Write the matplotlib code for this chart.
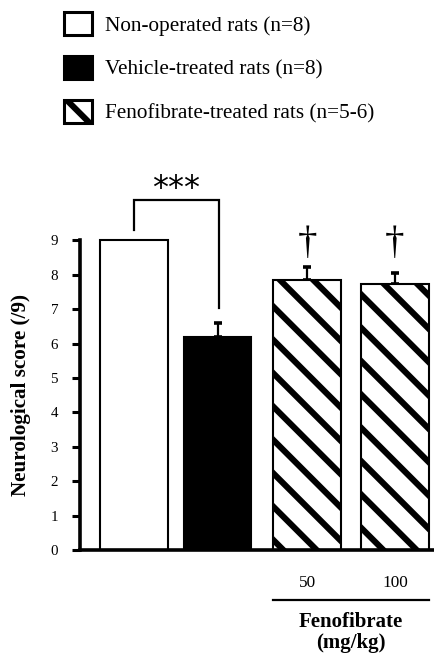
import matplotlib
matplotlib.use("Agg")
import matplotlib.pyplot as plt
from matplotlib.patches import Patch
import matplotlib.transforms as mtransforms

# ---- data ----
groups = ["Non-operated rats (n=8)", "Vehicle-treated rats (n=8)",
          "Fenofibrate-treated rats (n=5-6)", "Fenofibrate-treated rats (n=5-6)"]
scores = [9.0, 6.18, 7.85, 7.72]
sem = [0.0, 0.41, 0.37, 0.34]
dose_labels = ["", "", "50", "100"]
yticks = list(range(0, 10))

# ---- layout / style ----
positions = [0, 0.96, 1.99, 3.0]
width = 0.78
faces = ["white", "black", "white", "white"]
hatches = [None, None, "\\\\", "\\\\"]

DPI = 200
plt.rcParams["font.family"] = ["Liberation Serif", "DejaVu Serif"]
plt.rcParams["hatch.linewidth"] = 2.2
plt.rcParams["hatch.color"] = "black"

fig = plt.figure(figsize=(435 / DPI, 658 / DPI), dpi=DPI)
W, H = 435.0, 658.0
ax_left, ax_right, ax_bottom, ax_top = 80, 435, 550, 160
ax = fig.add_axes([ax_left / W, 1 - ax_bottom / H, (ax_right - ax_left) / W, (ax_bottom - ax_top) / H])
ppu = 34.4
ax.set_ylim(0, (ax_bottom - ax_top) / ppu)
unit = 87.0
ax.set_xlim((ax_left - 134) / unit, (ax_right - 134) / unit)

for i in range(len(scores)):
    ax.bar(positions[i], scores[i], width=width, color=faces[i], edgecolor="black",
           linewidth=0.75, hatch=hatches[i], zorder=2)

err_x = [positions[i] for i in range(len(sem)) if sem[i] > 0]
err_y = [scores[i] for i in range(len(sem)) if sem[i] > 0]
err_v = [sem[i] for i in range(len(sem)) if sem[i] > 0]
ax.errorbar(err_x, err_y, yerr=[[0] * len(err_v), err_v], fmt="none", ecolor="black",
            elinewidth=0.8, capsize=1.3, capthick=1.3, zorder=1)

# spines
for s in ["top", "right"]:
    ax.spines[s].set_visible(False)
ax.spines["left"].set_bounds(0, 9)
ax.spines["left"].set_linewidth(1.3)
ax.spines["bottom"].set_linewidth(1.3)
ax.set_yticks(yticks)
ax.set_yticklabels([str(t) for t in yticks])
ax.tick_params(axis="y", direction="out", length=2.9, width=1.1, labelsize=5.4, pad=5)
ax.set_xticks(positions)
ax.set_xticklabels(dose_labels)
ax.tick_params(axis="x", length=0, labelsize=6.2, pad=9)

ax.set_ylabel("Neurological score (/9)", fontsize=7.6, fontweight="bold")
ax.yaxis.set_label_coords((31 - ax_left) / (ax_right - ax_left), 4.5 / ((ax_bottom - ax_top) / ppu))

# significance bracket
yb_left, yb_top, yb_right = 9.30, 10.17, 7.03
xr = (219 - 134) / unit
ax.plot([positions[0], positions[0], xr, xr], [yb_left, yb_top, yb_top, yb_right],
        color="black", lw=0.8, clip_on=False, solid_joinstyle="miter")
ax.text((positions[0] + xr) / 2, 10.5, "***", ha="center", va="center",
        fontsize=11.5, family="DejaVu Sans", clip_on=False)

for p in positions[2:]:
    ax.text(p, 8.9, "\u2020", ha="center", va="center", fontsize=14, clip_on=False)

# Fenofibrate underline
trans = mtransforms.blended_transform_factory(ax.transData, ax.transAxes)
yline = (ax_bottom - 600) / (ax_bottom - ax_top)
x0 = positions[2] - width / 2
x1 = positions[3] + width / 2
ax.plot([x0, x1], [yline, yline], color="black", lw=0.8, transform=trans, clip_on=False)
xc = (positions[2] + positions[3]) / 2
ax.text(xc, (ax_bottom - 622) / (ax_bottom - ax_top), "Fenofibrate", transform=trans,
        ha="center", va="center", fontsize=7.5, fontweight="bold")
ax.text(xc, (ax_bottom - 643) / (ax_bottom - ax_top), "(mg/kg)", transform=trans,
        ha="center", va="center", fontsize=7.5, fontweight="bold")

# legend
handles = [Patch(facecolor=faces[i], edgecolor="black", hatch=hatches[i], linewidth=1.1)
           for i in range(3)]
fig.legend(handles, groups[:3], loc="upper left", bbox_to_anchor=(64 / W, 1 - 12 / H),
           frameon=False, fontsize=7.67, handlelength=1.31, handleheight=1.3,
           handletextpad=0.6, labelspacing=0.95, borderpad=0, borderaxespad=0)

fig.savefig("out.png", dpi=DPI)
